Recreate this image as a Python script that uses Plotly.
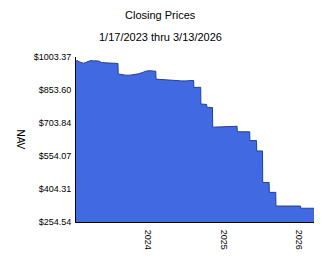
import plotly.graph_objects as go

dates = ["2023-01-17","2023-01-24","2023-02-01","2023-02-10","2023-02-22","2023-03-03","2023-03-15","2023-03-28",
         "2023-04-10","2023-04-24","2023-05-08","2023-05-20","2023-06-05","2023-06-20","2023-07-05","2023-07-20",
         "2023-08-04","2023-08-08","2023-08-09","2023-08-25","2023-09-15","2023-10-05","2023-10-25","2023-11-15",
         "2023-12-05","2023-12-20","2024-01-05","2024-01-20","2024-02-07","2024-02-08","2024-03-01","2024-03-25",
         "2024-04-20","2024-05-15","2024-06-10","2024-07-01","2024-07-20","2024-08-02","2024-08-08","2024-08-09",
         "2024-08-25","2024-09-11","2024-09-12","2024-10-10","2024-10-11","2024-11-07","2024-11-08","2024-12-10",
         "2025-01-10","2025-02-10","2025-03-06","2025-03-07","2025-04-07","2025-05-06","2025-05-07","2025-06-08",
         "2025-06-09","2025-07-07","2025-07-08","2025-08-08","2025-08-09","2025-09-09","2025-09-10","2025-11-01",
         "2026-01-07","2026-01-08","2026-03-13"]
nav = [985,987,982,979,975,978,983,987,
       986,984,985,978,977,976,977,975,
       976,974,926,923,921,921,923,927,
       933,939,941,940,939,903,901,899,
       897,897,895,895,897,899,897,865,
       866,866,790,788,775,774,685,686,
       686,688,689,664,665,664,624,624,
       577,577,434,434,389,389,327,327,
       327,317,317]

ytick_vals = [254.54, 404.31, 554.07, 703.84, 853.60, 1003.37]
ytick_text = ["$254.54", "$404.31", "$554.07", "$703.84", "$853.60", "$1003.37"]
xtick_vals = ["2024-01-01", "2025-01-01", "2026-01-01"]
xtick_text = ["2024", "2025", "2026"]

title = "Closing Prices"
subtitle = "1/17/2023 thru 3/13/2026"

fig = go.Figure()
fig.add_trace(go.Scatter(
    x=dates, y=nav, mode="lines", fill="tozeroy",
    line=dict(color="#1f3fa8", width=1),
    fillcolor="#4169E1", hoverinfo="skip"))

font = "Liberation Sans, Arial, sans-serif"
fig.update_layout(
    width=324, height=267,
    margin=dict(l=76, r=10, t=57, b=45),
    paper_bgcolor="white", plot_bgcolor="white",
    showlegend=False,
    font=dict(family=font, size=9, color="black"),
    xaxis=dict(range=["2023-01-17", "2026-03-13"], tickvals=xtick_vals, ticktext=xtick_text,
               tickangle=90, showgrid=False, zeroline=False, showline=True, linecolor="black",
               linewidth=1, ticks="", ticklabelstandoff=5, tickfont=dict(size=9)),
    yaxis=dict(range=[254.54, 1003.37], tickvals=ytick_vals, ticktext=ytick_text,
               showgrid=False, zeroline=False, showline=True, linecolor="black", linewidth=1,
               ticks="", ticklabelstandoff=2, tickfont=dict(size=9)),
    annotations=[
        dict(text=title, xref="paper", yref="paper", x=0.353, y=1.2545, showarrow=False,
             font=dict(size=11), xanchor="center", yanchor="middle"),
        dict(text=subtitle, xref="paper", yref="paper", x=0.353, y=1.121, showarrow=False,
             font=dict(size=11), xanchor="center", yanchor="middle"),
        dict(text="NAV", xref="paper", yref="paper", x=-0.235, y=0.5, showarrow=False,
             textangle=90, font=dict(size=10), xanchor="center", yanchor="middle"),
    ],
)
fig.write_html("out.html")
